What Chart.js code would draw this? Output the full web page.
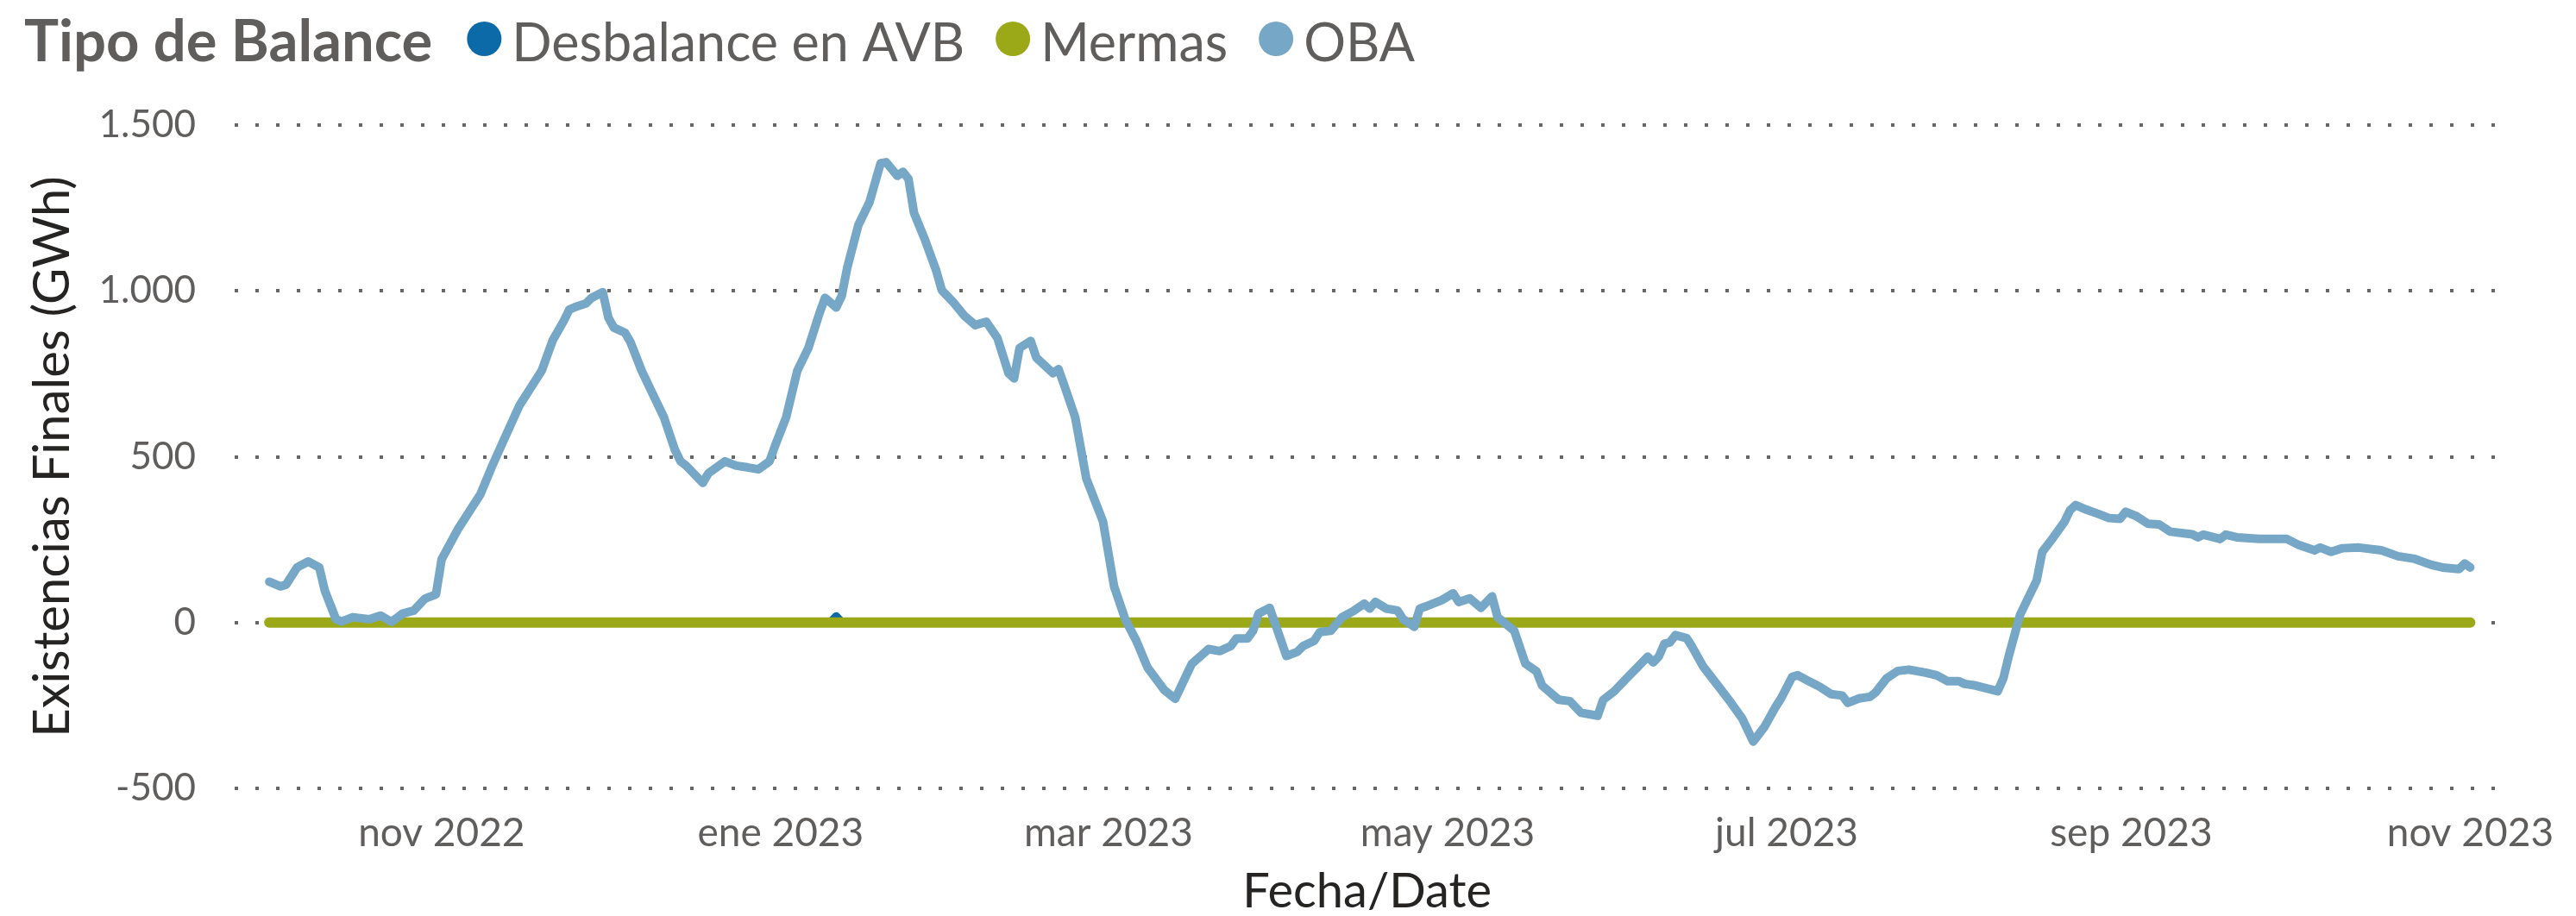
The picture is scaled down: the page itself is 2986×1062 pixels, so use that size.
<!DOCTYPE html>
<html>
<head>
<meta charset="utf-8">
<script src="https://cdn.jsdelivr.net/npm/chart.js@4.4.1/dist/chart.umd.min.js"></script>
<style>
  html, body { margin: 0; padding: 0; background: #ffffff; }
  #contenedor { width: 2986px; height: 1062px; }
</style>
</head>
<body>
<div id="contenedor"><canvas id="cvs_existencias" width="2986" height="1062"></canvas></div>
<script>
// Serie OBA (existencias finales, GWh)
const fechasOBA = [
  "2022-10-01", "2022-10-03", "2022-10-04", "2022-10-06", "2022-10-08", "2022-10-10", "2022-10-11", "2022-10-13",
  "2022-10-14", "2022-10-16", "2022-10-19", "2022-10-21", "2022-10-23", "2022-10-25", "2022-10-27", "2022-10-29",
  "2022-10-31", "2022-11-01", "2022-11-04", "2022-11-08", "2022-11-10", "2022-11-12", "2022-11-15", "2022-11-19",
  "2022-11-21", "2022-11-23", "2022-11-24", "2022-11-25", "2022-11-27", "2022-11-28", "2022-11-30", "2022-12-01",
  "2022-12-02", "2022-12-04", "2022-12-05", "2022-12-07", "2022-12-09", "2022-12-11", "2022-12-13", "2022-12-14",
  "2022-12-15", "2022-12-18", "2022-12-19", "2022-12-22", "2022-12-24", "2022-12-26", "2022-12-28", "2022-12-30",
  "2022-12-31", "2023-01-02", "2023-01-04", "2023-01-06", "2023-01-08", "2023-01-09", "2023-01-11", "2023-01-12",
  "2023-01-13", "2023-01-15", "2023-01-17", "2023-01-19", "2023-01-20", "2023-01-22", "2023-01-23", "2023-01-24",
  "2023-01-25", "2023-01-27", "2023-01-29", "2023-01-30", "2023-02-01", "2023-02-03", "2023-02-05", "2023-02-07",
  "2023-02-09", "2023-02-11", "2023-02-12", "2023-02-13", "2023-02-15", "2023-02-16", "2023-02-19", "2023-02-20",
  "2023-02-21", "2023-02-23", "2023-02-25", "2023-02-28", "2023-03-02", "2023-03-04", "2023-03-06", "2023-03-08",
  "2023-03-11", "2023-03-13", "2023-03-15", "2023-03-16", "2023-03-18", "2023-03-19", "2023-03-21", "2023-03-23",
  "2023-03-24", "2023-03-26", "2023-03-27", "2023-03-28", "2023-03-29", "2023-03-30", "2023-04-02", "2023-04-04",
  "2023-04-05", "2023-04-07", "2023-04-08", "2023-04-10", "2023-04-12", "2023-04-14", "2023-04-16", "2023-04-17",
  "2023-04-18", "2023-04-20", "2023-04-22", "2023-04-23", "2023-04-25", "2023-04-26", "2023-04-27", "2023-04-30",
  "2023-05-02", "2023-05-03", "2023-05-05", "2023-05-07", "2023-05-09", "2023-05-10", "2023-05-13", "2023-05-15",
  "2023-05-17", "2023-05-18", "2023-05-21", "2023-05-23", "2023-05-25", "2023-05-28", "2023-05-29", "2023-05-31",
  "2023-06-02", "2023-06-04", "2023-06-06", "2023-06-07", "2023-06-08", "2023-06-09", "2023-06-10", "2023-06-11",
  "2023-06-13", "2023-06-14", "2023-06-16", "2023-06-19", "2023-06-21", "2023-06-23", "2023-06-25", "2023-06-27",
  "2023-06-29", "2023-06-30", "2023-07-02", "2023-07-03", "2023-07-05", "2023-07-07", "2023-07-09", "2023-07-11",
  "2023-07-12", "2023-07-14", "2023-07-16", "2023-07-17", "2023-07-19", "2023-07-21", "2023-07-23", "2023-07-26",
  "2023-07-28", "2023-07-30", "2023-08-01", "2023-08-02", "2023-08-04", "2023-08-08", "2023-08-09", "2023-08-10",
  "2023-08-12", "2023-08-15", "2023-08-16", "2023-08-18", "2023-08-20", "2023-08-21", "2023-08-22", "2023-08-24",
  "2023-08-26", "2023-08-28", "2023-08-30", "2023-08-31", "2023-09-02", "2023-09-04", "2023-09-06", "2023-09-08",
  "2023-09-12", "2023-09-13", "2023-09-14", "2023-09-17", "2023-09-18", "2023-09-20", "2023-09-24", "2023-09-29",
  "2023-10-01", "2023-10-04", "2023-10-05", "2023-10-07", "2023-10-09", "2023-10-12", "2023-10-16", "2023-10-19",
  "2023-10-22", "2023-10-25", "2023-10-27", "2023-10-30", "2023-10-31", "2023-11-01"
];
const valoresOBA = [
  123, 109, 114, 166, 184, 166, 96, 10,
  3, 16, 10, 21, 2, 27, 36, 72,
  85, 190, 283, 387, 468, 543, 654, 759,
  851, 910, 944, 951, 962, 979, 996, 920,
  889, 874, 845, 759, 689, 619, 520, 486,
  473, 421, 450, 486, 473, 468, 462, 486,
  533, 619, 759, 828, 933, 979, 950, 985,
  1071, 1199, 1268, 1385, 1388, 1347, 1359, 1338,
  1235, 1153, 1061, 1002, 967, 926, 897, 907,
  858, 752, 736, 828, 849, 799, 752, 764,
  717, 619, 434, 305, 109, 10, -55, -135,
  -203, -230, -159, -124, -95, -80, -86, -71,
  -48, -48, -25, 27, 36, 44, -101, -88,
  -71, -55, -29, -25, 16, 34, 57, 42,
  62, 42, 36, 10, -13, 42, 48, 68,
  88, 62, 73, 44, 79, 16, -25, -124,
  -147, -190, -233, -237, -272, -281, -233, -207,
  -172, -138, -103, -120, -103, -64, -60, -38,
  -47, -73, -133, -198, -242, -289, -359, -315,
  -255, -229, -164, -159, -177, -194, -216, -220,
  -242, -229, -224, -211, -168, -146, -142, -151,
  -159, -177, -177, -185, -190, -207, -168, -99,
  23, 127, 213, 257, 304, 339, 354, 340,
  328, 315, 313, 334, 320, 298, 296, 274,
  266, 257, 265, 252, 265, 257, 252, 252,
  235, 218, 226, 213, 224, 226, 218, 200,
  192, 174, 166, 161, 178, 166
];

// Serie Mermas
const fechasMermas = ["2022-10-01", "2023-11-01"];
const valoresMermas = [0, 0];

// Serie Desbalance en AVB
const fechasDesbalance = ["2022-10-01", "2023-01-10", "2023-01-11", "2023-01-12", "2023-11-01"];
const valoresDesbalance = [0, 0, 18, 0, 0];

// Eje X: meses etiquetados
const fechasMes = ["2022-11-01", "2023-01-01", "2023-03-01", "2023-05-01", "2023-07-01", "2023-09-01", "2023-11-01"];
const etiquetasMes = ["nov 2022", "ene 2023", "mar 2023", "may 2023", "jul 2023", "sep 2023", "nov 2023"];
const inicioEje = "2022-09-24T18:30:00Z";
const finEje = "2023-11-06T06:15:00Z";

// Eje Y
const ticksY = [-500, 0, 500, 1000, 1500];

const tituloLeyenda = "Tipo de Balance";
const colorTexto = "#605E5C";
const colorTitulo = "#252423";

// dias desde 1 nov 2022
const origen = Date.parse("2022-11-01T00:00:00Z");
function dia(fecha) {
  const f = fecha.length > 10 ? fecha : fecha + "T00:00:00Z";
  return (Date.parse(f) - origen) / 86400000;
}
function puntos(fechas, valores) {
  return fechas.map((f, i) => ({ x: dia(f), y: valores[i] }));
}

// Leyenda estilo Power BI: titulo en negrita + circulos
const leyendaBalance = {
  id: "leyendaBalance",
  afterDraw(chart) {
    const ctx = chart.ctx;
    ctx.save();
    ctx.textBaseline = "alphabetic";
    ctx.textAlign = "left";
    ctx.fillStyle = colorTexto;
    ctx.font = "bold 67px Lato";
    ctx.fillText(tituloLeyenda, 28, 71);
    let x = 28 + ctx.measureText(tituloLeyenda).width + 40;
    ctx.font = "61px Lato";
    chart.data.datasets.forEach(function (ds) {
      ctx.fillStyle = ds.borderColor;
      ctx.beginPath();
      ctx.arc(x + 20, 45, 20, 0, Math.PI * 2);
      ctx.fill();
      ctx.fillStyle = colorTexto;
      ctx.fillText(ds.label, x + 52, 71);
      x += 52 + ctx.measureText(ds.label).width + 36;
    });
    ctx.restore();
  },
};

function dibujar() {
  Chart.defaults.font.family = "Lato";

  new Chart(document.getElementById("cvs_existencias"), {
    type: "line",
    data: {
      datasets: [
        {
          label: "Desbalance en AVB",
          data: puntos(fechasDesbalance, valoresDesbalance),
          borderColor: "#0D6AA8",
          borderWidth: 10,
          order: 2,
        },
        {
          label: "Mermas",
          data: puntos(fechasMermas, valoresMermas),
          borderColor: "#9BA818",
          borderWidth: 12,
          order: 1,
        },
        {
          label: "OBA",
          data: puntos(fechasOBA, valoresOBA),
          borderColor: "#76A7C6",
          borderWidth: 10,
          order: 0,
        },
      ],
    },
    options: {
      responsive: false,
      animation: false,
      layout: { padding: { top: 145, right: 71, bottom: 0, left: 0 } },
      elements: {
        point: { radius: 0, hoverRadius: 0 },
        line: { tension: 0, borderCapStyle: "round", borderJoinStyle: "round", fill: false },
      },
      plugins: {
        legend: { display: false },
        title: { display: false },
        tooltip: { enabled: false },
      },
      scales: {
        x: {
          type: "linear",
          min: dia(inicioEje),
          max: dia(finEje),
          afterFit: function (scale) { scale.height = 148; },
          afterBuildTicks: function (scale) {
            scale.ticks = fechasMes.map((f) => ({ value: dia(f) }));
          },
          grid: { display: false, drawTicks: false },
          border: { display: false },
          ticks: {
            autoSkip: false,
            maxRotation: 0,
            padding: 25,
            color: colorTexto,
            font: { size: 46 },
            callback: function (value, index) { return etiquetasMes[index]; },
          },
          title: {
            display: true,
            text: "Fecha/Date",
            color: colorTitulo,
            font: { size: 56, lineHeight: 1 },
            padding: { top: 0, bottom: 0 },
          },
        },
        y: {
          min: -500,
          max: 1500,
          afterFit: function (scale) { scale.width = 272; },
          afterBuildTicks: function (scale) {
            scale.ticks = ticksY.map((v) => ({ value: v }));
          },
          grid: { color: "#666666", lineWidth: 4, drawTicks: false },
          border: { display: false, dash: [4, 20] },
          ticks: {
            padding: 45,
            color: colorTexto,
            font: { size: 44 },
            callback: function (value) { return value.toLocaleString("de-DE"); },
          },
          title: {
            display: true,
            text: "Existencias Finales (GWh)",
            color: colorTitulo,
            font: { size: 58, lineHeight: 1.2 },
            padding: { top: 26, bottom: 0 },
          },
        },
      },
    },
    plugins: [leyendaBalance],
  });
}

Promise.all([
  document.fonts.load("44px Lato"),
  document.fonts.load("bold 67px Lato"),
]).then(dibujar, dibujar);
</script>
</body>
</html>
